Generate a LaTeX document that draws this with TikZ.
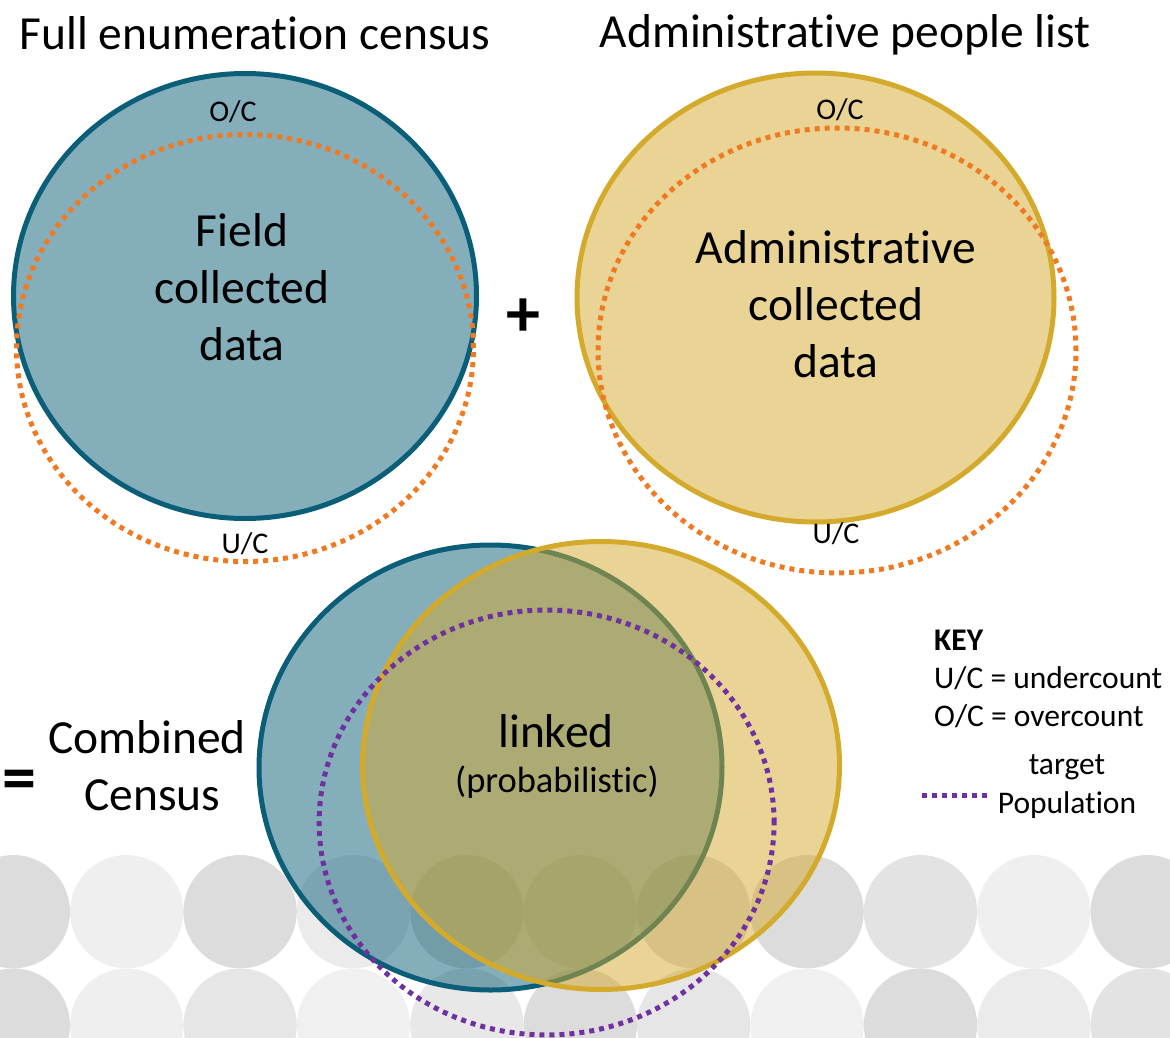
\documentclass[tikz,border=0pt]{standalone}
\usepackage{fontspec}
\setmainfont[Ligatures=NoCommon,RawFeature={-liga;-clig;-dlig}]{Carlito}
\usetikzlibrary{shapes.geometric}
\newcommand\tiNL{t\kern0pt i}
\definecolor{bluec}{HTML}{0B5E78}
\definecolor{goldc}{HTML}{D4AA2C}
\definecolor{orangec}{HTML}{F07A22}
\definecolor{purplec}{HTML}{7030A0}
\tikzset{
  bgc/.style={circle,minimum size=113.4pt,inner sep=0pt,draw=none},
  setb/.style={ellipse,inner sep=0pt,draw=bluec,line width=5pt,fill=bluec,fill opacity=0.5,draw opacity=1},
  setg/.style={ellipse,inner sep=0pt,draw=goldc,line width=5pt,fill=goldc,fill opacity=0.5,draw opacity=1},
  dotline/.style={line width=5pt,dash pattern=on 5pt off 5pt},
  orng/.style={ellipse,inner sep=0pt,draw=orangec,dotline},
  purp/.style={ellipse,inner sep=0pt,draw=purplec,dotline},
  big/.style={font=\fontsize{47.5}{57}\selectfont,align=center,inner sep=0pt},
  small/.style={font=\fontsize{30}{34}\selectfont,inner sep=0pt},
  keyt/.style={font=\fontsize{31.5}{38}\selectfont,inner sep=0pt,anchor=west},
  sym/.style={font=\fontsize{68}{70}\selectfont\bfseries,inner sep=0pt},
}
\begin{document}
\begin{tikzpicture}[x=1pt,y=-1pt]
\useasboundingbox (0,0) rectangle (1170,1038);
% background circles
\foreach \k/\ca/\cb in {0/DCDCDC/DCDCDC,1/EFEFEF/EFEFEF,2/DCDCDC/E6E6E6,3/EBEBEB/F0F0F0,4/DCDCDC/E8E8E8,5/E6E6E6/DCDCDC,6/DCDCDC/E6E6E6,7/DCDCDC/F0F0F0,8/E3E3E3/DCDCDC,9/EFEFEF/EBEBEB,10/DCDCDC/E3E3E3}{
  \definecolor{tmpa}{HTML}{\ca}\definecolor{tmpb}{HTML}{\cb}
  \node[bgc,fill=tmpa] (bga\k) at ({13.3+113.4*\k},911.7) {};
  \node[bgc,fill=tmpb] (bgb\k) at ({13.3+113.4*\k},1025.1) {};
}
% titles
\node[big] (t1) at (255,33) {Full enumera\tiNL on census};
\node[big] (t2) at (845,35) {Administra\tiNL ve people list};
% top-left set
\node[setb,minimum width=463pt,minimum height=445pt] (fc) at (245,296) {};
\node[orng,minimum width=457pt,minimum height=427pt] (fco) at (245,348) {};
\node[big] (fct) at (242,287) {Field\\collected\\data};
\node[small] (oc1) at (233,112) {O/C};
\node[small] (uc1) at (245,544) {U/C};
% plus
\node[sym] (plus) at (523,318) {+};
% top-right set
\node[setg,minimum width=477pt,minimum height=449pt] (ad) at (815.5,297.5) {};
\node[orng,minimum width=478pt,minimum height=445pt] (ado) at (837,350.5) {};
\node[big] (adt) at (836,304) {Administra\tiNL ve\\collected\\data};
\node[small] (oc2) at (840,110) {O/C};
\node[small] (uc2) at (836,534) {U/C};
% combined
\node[sym] (eq) at (19,785) {=};
\node[big] (cc) at (147,766) {Combined\\\ Census};
\node[setb,minimum width=463pt,minimum height=445pt] (cb) at (490.5,767.5) {};
\node[setg,minimum width=477pt,minimum height=448pt] (cg) at (601,765.5) {};
\node[purp,minimum width=455pt,minimum height=425pt] (tp) at (546.6,822.5) {};
\node[big] (lk) at (556,731) {linked};
\node[font=\fontsize{36.5}{40}\selectfont,inner sep=0pt] (pr) at (557,782) {(probabilis\tiNL c)};
% key
\node[keyt,font=\fontsize{31.5}{38}\selectfont\bfseries] (key) at (934,640) {KEY};
\node[keyt] (k1) at (934,678) {U/C = undercount};
\node[keyt] (k2) at (934,716) {O/C = overcount};
\node[font=\fontsize{31.5}{38}\selectfont,inner sep=0pt] (k3) at (1067,767) {target};
\node[font=\fontsize{31.5}{38}\selectfont,inner sep=0pt] (k4) at (1067,805) {Popula\tiNL on};
\coordinate (la) at (922,795);
\coordinate (lb) at (988,795);
\draw[purplec,dotline] (la) -- (lb);
\end{tikzpicture}
\end{document}
